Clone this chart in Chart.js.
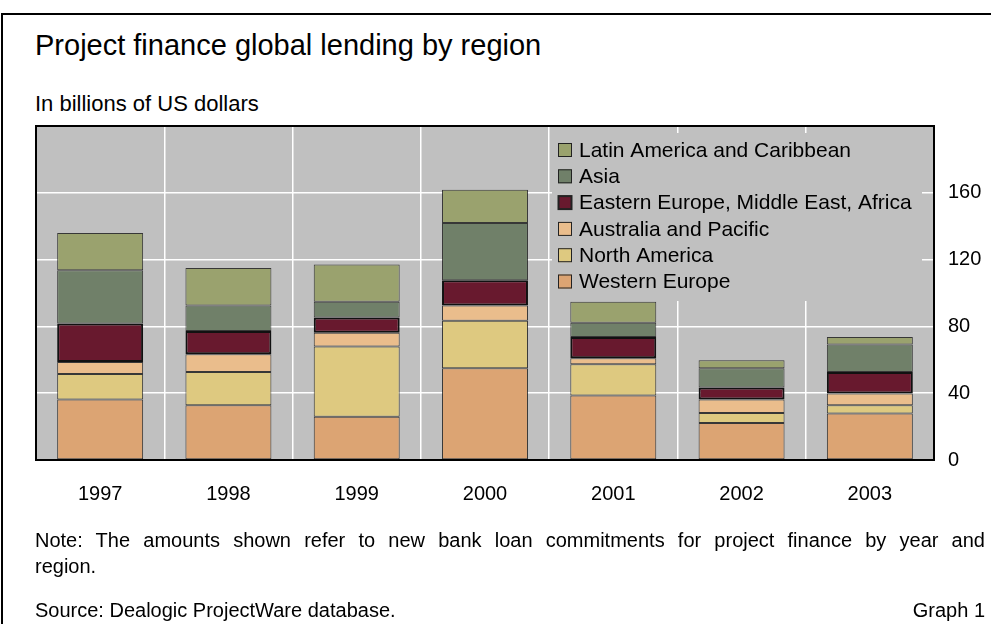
<!DOCTYPE html>
<html lang="en">
<head>
    <meta charset="UTF-8">
    <title>Project finance global lending by region</title>
    <script src="https://cdn.jsdelivr.net/npm/chart.js"></script>
    <style>
        html, body { margin: 0; padding: 0; background: #fff; overflow: hidden; }
        body { width: 991px; height: 624px; position: relative; font-family: "Liberation Sans", Arial, sans-serif; color: #000; }
        .frame { position: absolute; left: 1px; top: 13px; width: 1100px; height: 700px; border-top: 2px solid #000; border-left: 2px solid #000; }
        .txt { position: absolute; line-height: 1; white-space: nowrap; }
        #title { left: 35px; top: 31px; font-size: 29px; }
        #subtitle { left: 35px; top: 93px; font-size: 22px; }
        .note { left: 35px; width: 950px; font-size: 20px; }
        #note1 { top: 530px; text-align: justify; text-align-last: justify; }
        #note2 { top: 556px; }
        #source { left: 35px; top: 600px; font-size: 20px; }
        #graphno { right: 6px; top: 600px; font-size: 20px; }
        #chart { position: absolute; left: 0; top: 0; }
    </style>
</head>
<body>
<div class="frame"></div>
<div class="txt" id="title">Project finance global lending by region</div>
<div class="txt" id="subtitle">In billions of US dollars</div>
<canvas id="chart" width="991" height="624"></canvas>
<div class="txt note" id="note1">Note: The amounts shown refer to new bank loan commitments for project finance by year and</div>
<div class="txt note" id="note2">region.</div>
<div class="txt" id="source">Source: Dealogic ProjectWare database.</div>
<div class="txt" id="graphno">Graph 1</div>

<script>
    const years = ['1997', '1998', '1999', '2000', '2001', '2002', '2003'];

    // billions of US dollars, stacked bottom to top
    const westernEurope = [36.2, 32.8, 25.9, 54.9, 38.6, 22.1, 27.9];
    const northAmerica = [15.3, 19.9, 42.0, 28.5, 18.7, 6.0, 4.9];
    const australiaPacific = [7.2, 10.6, 8.3, 9.1, 3.6, 8.1, 7.0];
    const easternEuropeMEA = [23.1, 13.9, 9.2, 15.1, 12.7, 7.2, 12.9];
    const asia = [31.8, 15.3, 9.3, 34.3, 8.6, 11.5, 16.4];
    const latinAmerica = [22.3, 22.5, 22.3, 19.9, 12.5, 4.8, 4.5];

    const yTicks = [0, 40, 80, 120, 160];

    const FONT = '"Liberation Sans", Arial, sans-serif';
    const PLOT_BG = '#c0c0c0';

    const mkSet = (label, data, color, thick) => ({
        label: label,
        data: data,
        backgroundColor: color,
        borderColor: thick ? '#111' : 'rgba(20,20,20,0.8)',
        borderWidth: thick ? 2 : 1,
        borderSkipped: false,
        barPercentage: 0.67,
        categoryPercentage: 1.0
    });

    const datasets = [
        mkSet('Western Europe', westernEurope, '#dca473'),
        mkSet('North America', northAmerica, '#dec980'),
        mkSet('Australia and Pacific', australiaPacific, '#eabd8c'),
        mkSet('Eastern Europe, Middle East, Africa', easternEuropeMEA, '#68192e', true),
        mkSet('Asia', asia, '#708069'),
        mkSet('Latin America and Caribbean', latinAmerica, '#9aa26e')
    ];

    // grey plot background, legend box inside the plot, black frame
    const plotDecor = {
        id: 'plotDecor',
        beforeDraw(chart) {
            const a = chart.chartArea;
            const ctx = chart.ctx;
            ctx.save();
            ctx.fillStyle = PLOT_BG;
            ctx.fillRect(a.left, a.top, a.right - a.left, a.bottom - a.top);
            ctx.restore();
        },
        beforeDatasetsDraw(chart) {
            const ctx = chart.ctx;
            const sets = chart.data.datasets.slice().reverse();
            ctx.save();
            ctx.fillStyle = PLOT_BG;
            ctx.fillRect(552, 133, 370, 168);
            ctx.font = '21px ' + FONT;
            ctx.textBaseline = 'middle';
            sets.forEach((ds, i) => {
                const cy = 150 + i * 26.3;
                ctx.fillStyle = ds.backgroundColor;
                ctx.fillRect(558, cy - 7, 14, 14);
                ctx.lineWidth = ds.borderWidth > 1 ? 2 : 1;
                ctx.strokeStyle = '#222';
                ctx.strokeRect(558.5, cy - 6.5, 13, 13);
                ctx.fillStyle = '#000';
                ctx.fillText(ds.label, 579, cy + 1);
            });
            ctx.restore();
        },
        afterDatasetsDraw(chart) {
            const a = chart.chartArea;
            const ctx = chart.ctx;
            ctx.save();
            ctx.strokeStyle = '#000';
            ctx.lineWidth = 2;
            ctx.strokeRect(a.left, a.top, a.right - a.left, a.bottom - a.top);
            ctx.restore();
        }
    };

    new Chart(document.getElementById('chart').getContext('2d'), {
        type: 'bar',
        data: { labels: years, datasets: datasets },
        options: {
            responsive: false,
            animation: false,
            events: [],
            layout: { padding: { left: 36, top: 126, right: 0, bottom: 0 } },
            plugins: {
                legend: { display: false },
                tooltip: { enabled: false },
                title: { display: false }
            },
            scales: {
                x: {
                    stacked: true,
                    grid: { color: '#ffffff', lineWidth: 1.5, drawTicks: false, offset: true },
                    border: { display: true, color: '#000', width: 2 },
                    ticks: { color: '#000', font: { family: FONT, size: 20 }, padding: 22 },
                    afterFit(scale) { scale.height = 164; }
                },
                y: {
                    stacked: true,
                    position: 'right',
                    min: 0,
                    max: 200,
                    afterBuildTicks(scale) {
                        scale.ticks = yTicks.concat([200]).map(v => ({ value: v }));
                    },
                    grid: { color: '#ffffff', lineWidth: 1.5, drawTicks: false },
                    border: { display: true, color: '#000', width: 2 },
                    ticks: {
                        color: '#000',
                        font: { family: FONT, size: 20 },
                        padding: 14,
                        callback: v => (yTicks.includes(v) ? String(v) : '')
                    },
                    afterFit(scale) { scale.width = 57; }
                }
            }
        },
        plugins: [plotDecor]
    });
</script>
</body>
</html>
